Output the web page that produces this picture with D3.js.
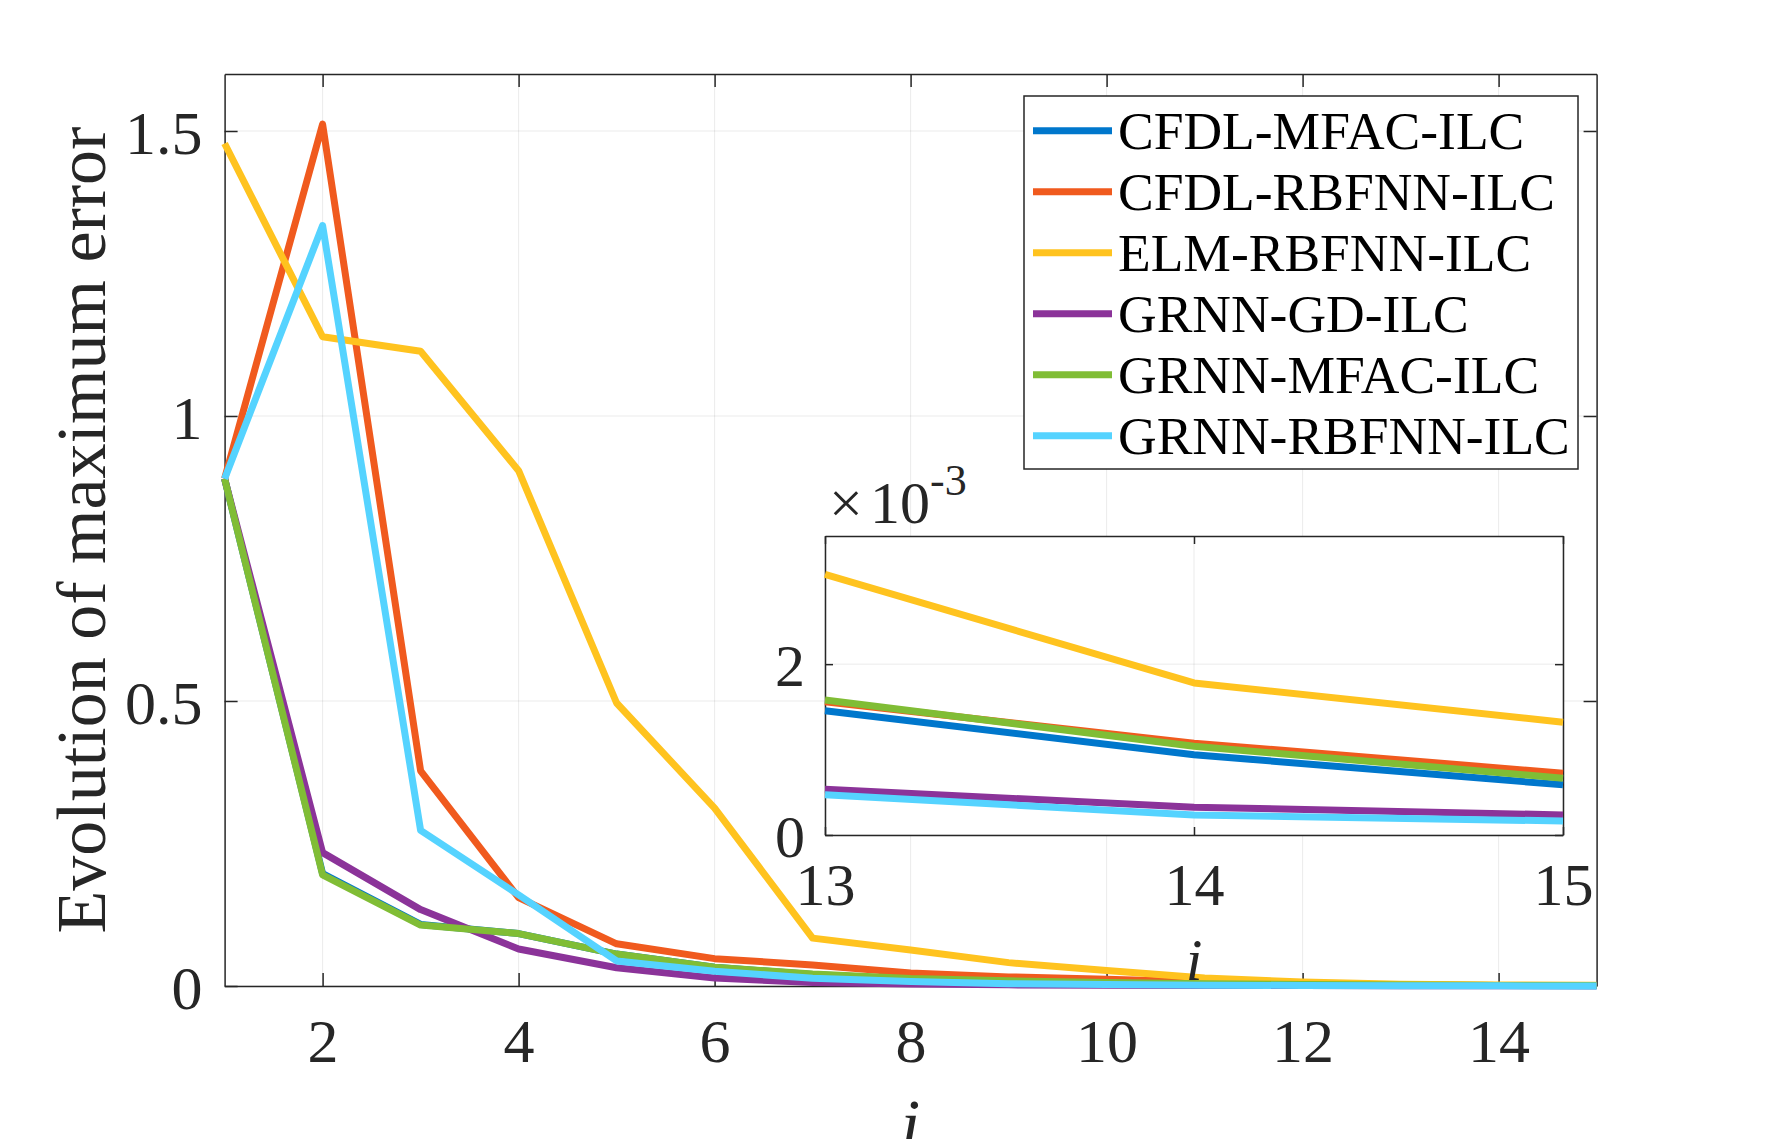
<!DOCTYPE html>
<html><head><meta charset="utf-8">
<script src="https://cdn.jsdelivr.net/npm/d3@7"></script>
<style>
body{margin:0;background:#fff}
svg{display:block}
text{font-family:"Liberation Serif","Times New Roman",Times,serif}
</style>
</head><body>
<svg id="chart" width="1765" height="1139"></svg>
<script>
// ---------------- data ----------------
const iterations = [1, 2, 3, 4, 5, 6, 7, 8, 9, 10, 11, 12, 13, 14, 15];
const seriesNames = ["CFDL-MFAC-ILC", "CFDL-RBFNN-ILC", "ELM-RBFNN-ILC", "GRNN-GD-ILC", "GRNN-MFAC-ILC", "GRNN-RBFNN-ILC"];
const seriesColors = ["#0077CC", "#F05A1E", "#FFC31F", "#8B3399", "#80BD35", "#55D3FF"];
const cfdlMfacIlc  = [0.89, 0.197, 0.108, 0.092, 0.056, 0.033, 0.020, 0.012, 0.0085, 0.0057, 0.0037, 0.0023, 0.001455, 0.00094, 0.000587];
const cfdlRbfnnIlc = [0.89, 1.512, 0.3775, 0.155, 0.074, 0.048, 0.037, 0.023, 0.016, 0.012, 0.007, 0.0038, 0.00156, 0.001075, 0.000724];
const elmRbfnnIlc  = [1.478, 1.139, 1.1135, 0.904, 0.4965, 0.312, 0.084, 0.063, 0.041, 0.027, 0.014, 0.007, 0.00305, 0.00178, 0.00132];
const grnnGdIlc    = [0.89, 0.234, 0.134, 0.065, 0.032, 0.014, 0.006, 0.0035, 0.002, 0.0013, 0.0009, 0.0007, 0.000536, 0.000325, 0.000235];
const grnnMfacIlc  = [0.89, 0.195, 0.107, 0.092, 0.056, 0.033, 0.021, 0.013, 0.009, 0.006, 0.004, 0.0025, 0.00158, 0.00104, 0.000665];
const grnnRbfnnIlc = [0.89, 1.334, 0.273, 0.160, 0.044, 0.026, 0.0135, 0.008, 0.004, 0.0025, 0.0015, 0.0009, 0.00047, 0.000235, 0.000164];
const seriesValues = [cfdlMfacIlc, cfdlRbfnnIlc, elmRbfnnIlc, grnnGdIlc, grnnMfacIlc, grnnRbfnnIlc];

const xTicks = [2, 4, 6, 8, 10, 12, 14];
const yTicks = [0, 0.5, 1, 1.5];
const yTickLabels = ["0", "0.5", "1", "1.5"];
const insetXTicks = [13, 14, 15];
const insetYTicks = [0, 0.002];
const insetYTickLabels = ["0", "2"];
const xLabel = "i";
const yLabel = "Evolution of maximum error";

// ---------------- layout ----------------
const svg = d3.select("#chart");
svg.append("rect").attr("width", 1765).attr("height", 1139).attr("fill", "#fff");
const AX = "#262626";
const M = {left: 224.6, right: 1596.6, top: 74, bottom: 986};
const x = d3.scaleLinear().domain([1, 15]).range([M.left, M.right]);
const y = d3.scaleLinear().domain([0, 1.6]).range([M.bottom, M.top]);

const series = seriesNames.map((name, k) => ({
  name, color: seriesColors[k],
  points: iterations.map((it, j) => ({i: it, v: seriesValues[k][j]}))
}));

function styleAxis(g, fs) {
  g.attr("font-size", fs).attr("font-family", null);
  g.select(".domain").attr("stroke", AX).attr("stroke-width", 1.5);
  g.selectAll(".tick line").attr("stroke", AX).attr("stroke-width", 1.5);
  g.selectAll(".tick text").attr("fill", AX);
}

function drawAxes(g, xs, ys, xt, yt, yLabels, tick, fs, padB, padL, dyL) {
  const [x0, x1] = xs.range();
  const [y0, y1] = ys.range();
  const grid = g.append("g").attr("stroke", AX).attr("stroke-opacity", 0.09).attr("stroke-width", 1);
  grid.selectAll("line.gx").data(xt).join("line").attr("class", "gx")
    .attr("x1", d => xs(d)).attr("x2", d => xs(d)).attr("y1", y1).attr("y2", y0);
  grid.selectAll("line.gy").data(yt).join("line").attr("class", "gy")
    .attr("x1", x0).attr("x2", x1).attr("y1", d => ys(d)).attr("y2", d => ys(d));
  g.append("g").attr("transform", `translate(0,${y0})`)
    .call(d3.axisBottom(xs).tickValues(xt).tickFormat(d3.format("d")).tickSizeInner(-tick).tickSizeOuter(0).tickPadding(padB))
    .call(a => styleAxis(a, fs));
  g.append("g").attr("transform", `translate(${x0},0)`)
    .call(d3.axisLeft(ys).tickValues(yt).tickFormat((d, i) => yLabels[i]).tickSizeInner(-tick).tickSizeOuter(0).tickPadding(padL))
    .call(a => styleAxis(a, fs))
    .call(a => a.selectAll(".tick text").attr("dy", dyL));
  g.append("g").attr("transform", `translate(0,${y1})`)
    .call(d3.axisTop(xs).tickValues(xt).tickFormat(() => "").tickSizeInner(-tick).tickSizeOuter(0))
    .call(a => styleAxis(a, fs));
  g.append("g").attr("transform", `translate(${x1},0)`)
    .call(d3.axisRight(ys).tickValues(yt).tickFormat(() => "").tickSizeInner(-tick).tickSizeOuter(0))
    .call(a => styleAxis(a, fs));
}

// ---------------- main axes ----------------
const main = svg.append("g");
drawAxes(main, x, y, xTicks, yTicks, yTickLabels, 13, 62, 32, 22, "0.36em");

const line = d3.line().x(d => x(d.i)).y(d => y(d.v));
main.append("g").selectAll("path").data(series).join("path")
  .attr("d", d => line(d.points))
  .attr("fill", "none").attr("stroke", d => d.color).attr("stroke-width", 7)
  .attr("stroke-linejoin", "round");

svg.append("text").attr("x", (M.left + M.right) / 2).attr("y", 1148)
  .attr("text-anchor", "middle").attr("font-size", 70).attr("font-style", "italic").attr("fill", AX)
  .text(xLabel);
svg.append("text").attr("transform", `translate(105,${(M.top + M.bottom) / 2}) rotate(-90)`)
  .attr("text-anchor", "middle").attr("font-size", 70).attr("fill", AX)
  .text(yLabel);

// ---------------- legend ----------------
const L = {x: 1024, y: 96, w: 554, h: 373, row0: 130.7, step: 61};
const leg = svg.append("g");
leg.append("rect").attr("x", L.x).attr("y", L.y).attr("width", L.w).attr("height", L.h)
  .attr("fill", "#fff").attr("stroke", AX).attr("stroke-width", 1.5);
const rows = leg.selectAll("g.row").data(series).join("g").attr("class", "row")
  .attr("transform", (d, k) => `translate(0,${L.row0 + k * L.step})`);
rows.append("line").attr("x1", 1033).attr("x2", 1112).attr("y1", 0).attr("y2", 0)
  .attr("stroke", d => d.color).attr("stroke-width", 7);
rows.append("text").attr("x", 1118).attr("y", 18.6)
  .attr("font-size", 53.5).attr("fill", "#000").text(d => d.name);

// ---------------- inset ----------------
const I = {left: 825, right: 1563, top: 536, bottom: 835};
const xi = d3.scaleLinear().domain([13, 15]).range([I.left, I.right]);
const yi = d3.scaleLinear().domain([0, 0.0035]).range([I.bottom, I.top]);
const inset = svg.append("g");
inset.append("rect").attr("x", I.left).attr("y", I.top).attr("width", I.right - I.left).attr("height", I.bottom - I.top)
  .attr("fill", "#fff");
drawAxes(inset, xi, yi, insetXTicks, insetYTicks, insetYTickLabels, 8, 60, 27, 20, "0.36em");
const lineI = d3.line().x(d => xi(d.i)).y(d => yi(d.v));
inset.append("g").selectAll("path").data(series).join("path")
  .attr("d", d => lineI(d.points.filter(p => p.i >= 13)))
  .attr("fill", "none").attr("stroke", d => d.color).attr("stroke-width", 7)
  .attr("stroke-linejoin", "round");
inset.append("text").attr("x", (I.left + I.right) / 2).attr("y", 980)
  .attr("text-anchor", "middle").attr("font-size", 60).attr("font-style", "italic").attr("fill", AX)
  .text(xLabel);
// exponent label
inset.append("text").attr("x", 829).attr("y", 523).attr("font-size", 60).attr("fill", AX).text("\u00D7");
inset.append("text").attr("x", 870).attr("y", 523).attr("font-size", 60).attr("fill", AX).text("10");
inset.append("text").attr("x", 930).attr("y", 495).attr("font-size", 44).attr("fill", AX).text("-3");
</script>
</body></html>
